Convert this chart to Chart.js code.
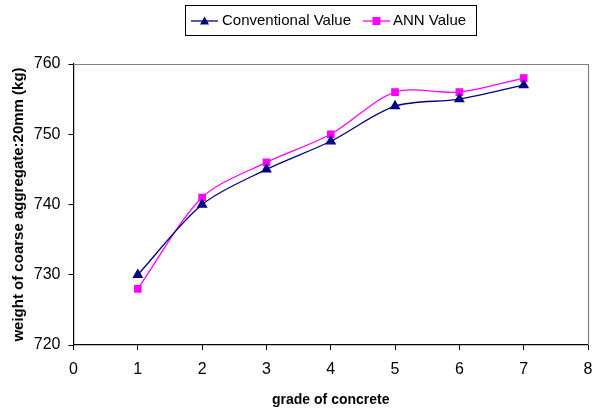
<!DOCTYPE html>
<html>
<head>
<meta charset="utf-8">
<script src="https://cdn.jsdelivr.net/npm/chart.js@4/dist/chart.umd.min.js"></script>
<style>
html,body{margin:0;padding:0;background:#fff;}
#wrap{width:596px;height:409px;position:relative;}
</style>
</head>
<body>
<div id="wrap"><canvas id="c" width="596" height="409"></canvas></div>
<script>
const grades = [1, 2, 3, 4, 5, 6, 7];
const conventionalValues = [730, 740, 745, 749, 754, 755, 757];
const annValues = [728, 741, 746, 750, 756, 756, 758];
const xTicks = [0, 1, 2, 3, 4, 5, 6, 7, 8];
const yTicks = [720, 730, 740, 750, 760];
const seriesNames = ['Conventional Value', 'ANN Value'];
const xTitle = 'grade of concrete';
const yTitle = 'weight of coarse aggregate:20mm (kg)';

const navy = '#000080';
const magenta = '#FF00FF';
const FONT = 'Liberation Sans, Arial, sans-serif';

const toPts = (vals) => grades.map((x, i) => ({x: x, y: vals[i]}));

function drawMarker(ctx, shape, color, cx, cy) {
  ctx.fillStyle = color;
  if (shape === 'triangle') {
    ctx.beginPath(); ctx.moveTo(cx, cy - 4.5); ctx.lineTo(cx + 4.5, cy + 3.5); ctx.lineTo(cx - 4.5, cy + 3.5); ctx.closePath(); ctx.fill();
  } else {
    ctx.fillRect(cx - 4, cy - 4, 8, 8);
  }
}

const legendPlugin = {
  id: 'boxLegend',
  afterDraw(chart) {
    const ctx = chart.ctx;
    ctx.save();
    const a = chart.chartArea;
    ctx.strokeStyle = '#808080'; ctx.lineWidth = 1.2;
    ctx.beginPath();
    ctx.moveTo(a.left, a.top + 0.5); ctx.lineTo(a.right + 0.5, a.top + 0.5); ctx.lineTo(a.right + 0.5, a.bottom);
    ctx.stroke();
    ctx.strokeStyle = '#000'; ctx.lineWidth = 1;
    ctx.strokeRect(185.5, 5.5, 291, 30);
    const items = [
      {name: seriesNames[0], color: navy, shape: 'triangle', x0: 191, x1: 218, tx: 222},
      {name: seriesNames[1], color: magenta, shape: 'rect', x0: 363, x1: 390, tx: 393}
    ];
    const cy = 21;
    items.forEach(it => {
      ctx.strokeStyle = it.color; ctx.lineWidth = 1.3;
      ctx.beginPath(); ctx.moveTo(it.x0, cy); ctx.lineTo(it.x1, cy); ctx.stroke();
      drawMarker(ctx, it.shape, it.color, (it.x0 + it.x1) / 2, cy);
      ctx.fillStyle = '#000';
      ctx.font = '15px ' + FONT;
      ctx.textBaseline = 'middle';
      ctx.textAlign = 'left';
      ctx.fillText(it.name, it.tx, cy);
    });
    ctx.restore();
  }
};

new Chart(document.getElementById('c'), {
  type: 'line',
  data: {
    datasets: [
      {
        label: seriesNames[0], data: toPts(conventionalValues),
        borderColor: navy, backgroundColor: navy, borderWidth: 1.3,
        pointStyle: 'triangle', pointRadius: 5, pointHoverRadius: 5,
        tension: 0.3
      },
      {
        label: seriesNames[1], data: toPts(annValues),
        borderColor: magenta, backgroundColor: magenta, borderWidth: 1.3,
        pointStyle: 'rect', pointRadius: 4.5, pointHoverRadius: 4.5,
        tension: 0.3
      }
    ]
  },
  options: {
    responsive: false,
    animation: false,
    layout: {padding: {left: 10, right: 8, top: 64, bottom: 0}},
    plugins: {
      tooltip: {enabled: false},
      legend: {display: false}
    },
    scales: {
      x: {
        type: 'linear', min: 0, max: 8,
        afterBuildTicks(s) { s.ticks = xTicks.map(v => ({value: v})); },
        afterFit(s) { s.height = 64; s.paddingRight = 0; s.paddingLeft = 0; },
        grid: {display: true, drawOnChartArea: false, drawTicks: true, tickLength: 5, color: '#000'},
        border: {color: '#000', width: 1.2},
        ticks: {color: '#000', font: {family: FONT, size: 16}, padding: 10, maxRotation: 0},
        title: {display: true, text: xTitle, color: '#000', font: {family: FONT, size: 14, weight: 'bold'}, padding: 0}
      },
      y: {
        type: 'linear', min: 720, max: 760,
        afterBuildTicks(s) { s.ticks = yTicks.map(v => ({value: v})); },
        afterFit(s) { s.width = 63.5; s.paddingTop = 0; s.paddingBottom = 0; },
        grid: {display: true, drawOnChartArea: false, drawTicks: true, tickLength: 5, color: '#000'},
        border: {color: '#000', width: 1.2},
        ticks: {color: '#000', font: {family: FONT, size: 16}, padding: 8},
        title: {display: true, text: yTitle, color: '#000', font: {family: FONT, size: 15, weight: 'bold'}, padding: 0}
      }
    }
  },
  plugins: [legendPlugin]
});
</script>
</body>
</html>
